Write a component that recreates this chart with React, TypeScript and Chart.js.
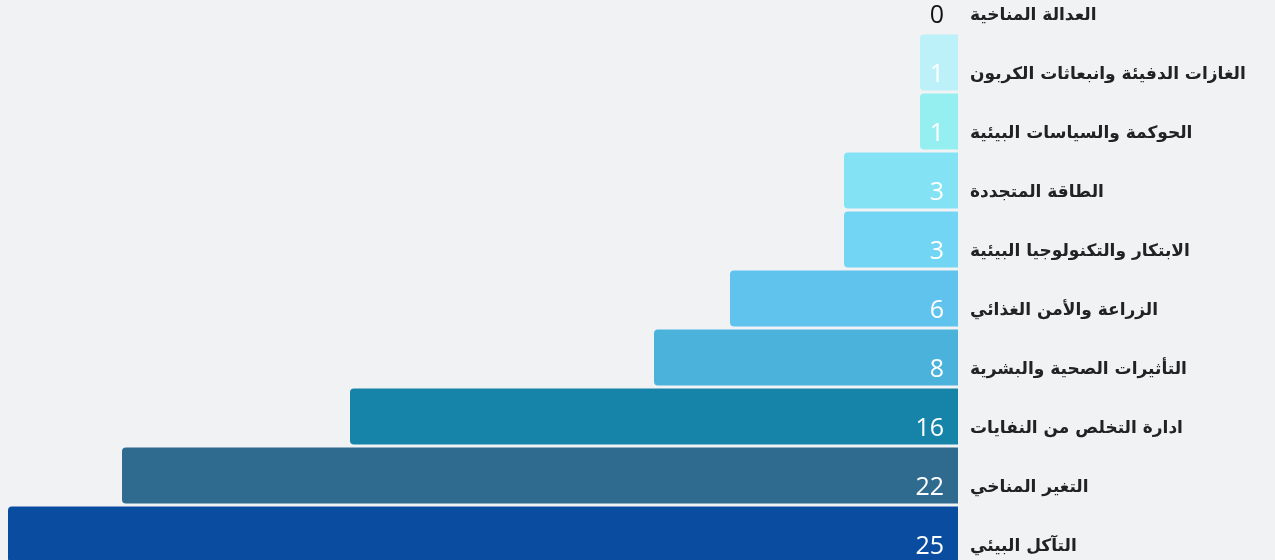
import React, { useEffect, useRef } from "react";
import { Chart, registerables } from "chart.js";

Chart.register(...registerables);

const categories: string[] = [
  "العدالة المناخية",
  "الغازات الدفيئة وانبعاثات الكربون",
  "الحوكمة والسياسات البيئية",
  "الطاقة المتجددة",
  "الابتكار والتكنولوجيا البيئية",
  "الزراعة والأمن الغذائي",
  "التأثيرات الصحية والبشرية",
  "ادارة التخلص من النفايات",
  "التغير المناخي",
  "التآكل البيئي",
];

const values: number[] = [0, 1, 1, 3, 3, 6, 8, 16, 22, 25];

const barColors: string[] = [
  "#c4f3fb",
  "#bdf1fa",
  "#95eff1",
  "#84e2f5",
  "#72d5f3",
  "#60c3ed",
  "#4bb2dc",
  "#1683a9",
  "#2f6b8f",
  "#0a4ca0",
];

const LABEL_SHIFT = 12;

const valueLabelPlugin = {
  id: "valueLabels",
  afterDatasetsDraw(chart: any) {
    const ctx = chart.ctx;
    const meta = chart.getDatasetMeta(0);
    ctx.save();
    ctx.font = "400 25px 'Open Sans', sans-serif";
    ctx.textAlign = "right";
    ctx.textBaseline = "middle";
    meta.data.forEach((bar: any, i: number) => {
      const v = values[i];
      ctx.fillStyle = v === 0 ? "#111111" : "#ffffff";
      ctx.fillText(String(v), bar.base - 14, bar.y + LABEL_SHIFT);
    });
    ctx.restore();
  },
};

export default function App() {
  const canvasRef = useRef<HTMLCanvasElement | null>(null);

  useEffect(() => {
    document.body.style.background = "#f1f2f4";
    const canvas = canvasRef.current;
    if (!canvas) return;
    const chart = new Chart(canvas, {
      type: "bar",
      data: {
        labels: categories,
        datasets: [
          {
            data: values,
            backgroundColor: barColors,
            borderWidth: 0,
            borderRadius: 4,
            categoryPercentage: 1,
            barPercentage: 0.95,
          },
        ],
      },
      options: {
        indexAxis: "y",
        animation: false,
        responsive: true,
        maintainAspectRatio: false,
        layout: { padding: { top: 0, left: 8, right: 8, bottom: 0 } },
        plugins: {
          legend: { display: false },
          tooltip: { enabled: false },
        },
        scales: {
          x: {
            display: false,
            reverse: true,
            min: 0,
            max: 25,
          },
          y: {
            position: "right",
            grid: { display: false, drawTicks: false },
            border: { display: false },
            ticks: {
              color: "#222222",
              padding: 12,
              labelOffset: LABEL_SHIFT,
              font: { family: "'DejaVu Sans', sans-serif", size: 17, weight: "bold" },
            },
            afterFit(scale: any) {
              scale.width = 309;
              scale.paddingTop = 0;
              scale.paddingBottom = 0;
            },
          },
        },
      },
      plugins: [valueLabelPlugin],
    });
    return () => chart.destroy();
  }, []);

  return (
    <div style={{ position: "fixed", top: -26, left: 0, width: 1275, height: 590 }}>
      <canvas ref={canvasRef} />
    </div>
  );
}
